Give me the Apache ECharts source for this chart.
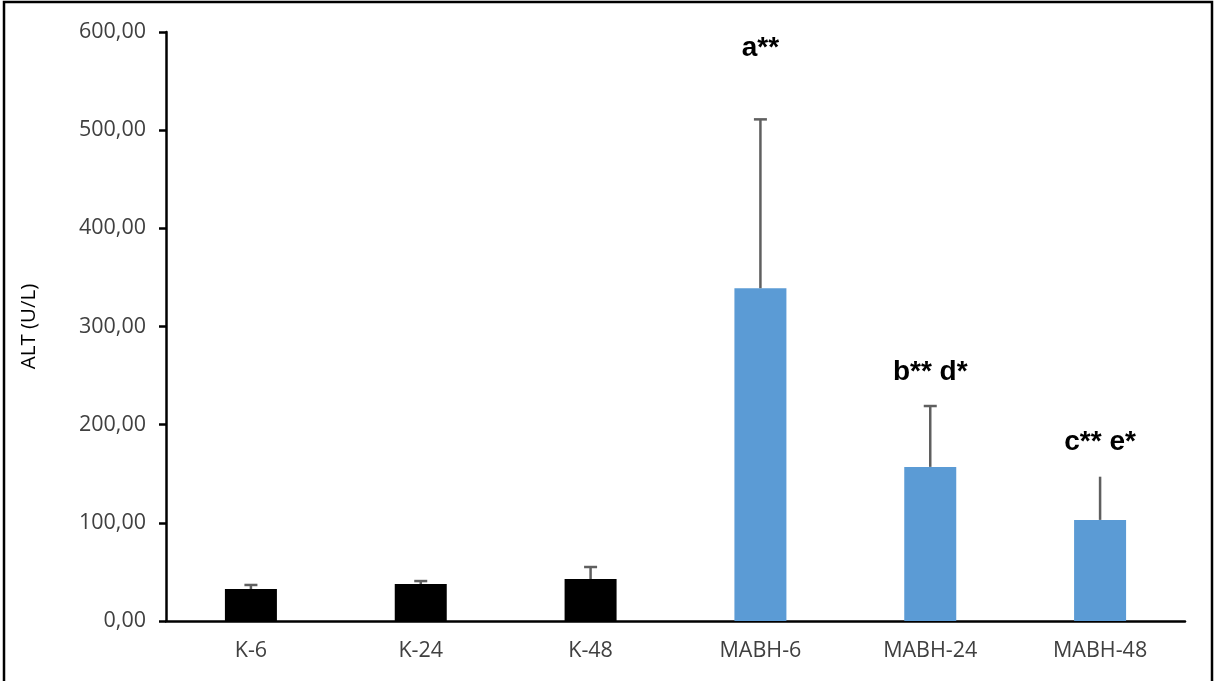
<!DOCTYPE html>
<html>
<head>
<meta charset="utf-8">
<script src="https://cdn.jsdelivr.net/npm/echarts@6/dist/echarts.min.js"></script>
<style>
  html, body { margin: 0; padding: 0; background: #fff; }
  #chart { width: 1218px; height: 681px; }
</style>
</head>
<body>
<div id="chart"></div>
<script>
// Serum ALT by group and time point
const groups = ['K-6', 'K-24', 'K-48', 'MABH-6', 'MABH-24', 'MABH-48'];
const altMean = [32.6, 37.7, 42.8, 339, 157, 103];
const altSD = [4.1, 3.0, 12.2, 172, 62, 44];
const sdCap = [true, true, true, true, true, false];
const barColors = ['#000000', '#000000', '#000000', '#5B9BD5', '#5B9BD5', '#5B9BD5'];
const sigLabels = ['', '', '', 'a**', 'b** d*', 'c** e*'];
const sigLevel = [null, null, null, 583, 253, 182];
const yTicks = [0, 100, 200, 300, 400, 500, 600];

const fmt = v => v.toFixed(2).replace('.', ',');
const tickFont = { fontFamily: 'Open Sans', fontSize: 21.5, color: '#404040' };

const chart = echarts.init(document.getElementById('chart'), null, { renderer: 'canvas' });

chart.setOption({
  animation: false,
  backgroundColor: '#fff',
  graphic: [{
    type: 'rect',
    shape: { x: 4, y: 2, width: 1208, height: 700 },
    style: { fill: 'none', stroke: '#000', lineWidth: 2.5 },
    silent: true
  }],
  grid: { left: 166, right: 33, top: 32, bottom: 60, containLabel: false },
  xAxis: {
    type: 'category',
    data: groups,
    axisLine: { lineStyle: { color: '#000', width: 2.5 } },
    axisTick: { show: false },
    axisLabel: Object.assign({ margin: 19 }, tickFont)
  },
  yAxis: {
    type: 'value',
    min: yTicks[0],
    max: yTicks[yTicks.length - 1],
    interval: 100,
    name: 'ALT (U/L)',
    nameLocation: 'middle',
    nameGap: 126,
    nameTextStyle: { fontFamily: 'Open Sans', fontSize: 20.5, color: '#000' },
    axisLine: { show: true, lineStyle: { color: '#000', width: 2.5 } },
    axisTick: { show: true, length: 7, lineStyle: { color: '#000', width: 2.5 } },
    splitLine: { show: false },
    axisLabel: Object.assign({ margin: 20, formatter: v => fmt(v) }, tickFont)
  },
  series: [
    {
      type: 'bar',
      barWidth: 52,
      data: altMean.map((v, i) => ({ value: v, itemStyle: { color: barColors[i] } })),
      z: 2
    },
    {
      // standard deviation whiskers (upper side)
      type: 'custom',
      z: 3,
      data: altMean.map((v, i) => [i, v, v + altSD[i], sdCap[i] ? 1 : 0]),
      renderItem: (params, api) => {
        const lo = api.coord([api.value(0), api.value(1)]);
        const hi = api.coord([api.value(0), api.value(2)]);
        const style = { stroke: '#5f5f5f', lineWidth: 2.5 };
        const children = [{ type: 'line', shape: { x1: lo[0], y1: lo[1], x2: hi[0], y2: hi[1] }, style }];
        if (api.value(3)) {
          children.push({ type: 'line', shape: { x1: hi[0] - 6.5, y1: hi[1], x2: hi[0] + 6.5, y2: hi[1] }, style });
        }
        return { type: 'group', children };
      }
    },
    {
      // significance markers
      type: 'scatter',
      symbolSize: 0,
      z: 4,
      itemStyle: { opacity: 1 },
      data: sigLevel
        .map((v, i) => (v === null ? null : { value: [i, v], name: sigLabels[i] }))
        .filter(Boolean),
      label: {
        show: true,
        position: 'inside',
        formatter: p => p.name,
        fontFamily: 'Liberation Sans',
        fontWeight: 'bold',
        fontSize: 28,
        color: '#000',
        opacity: 1,
        textBorderWidth: 0
      }
    }
  ]
});
</script>
</body>
</html>
